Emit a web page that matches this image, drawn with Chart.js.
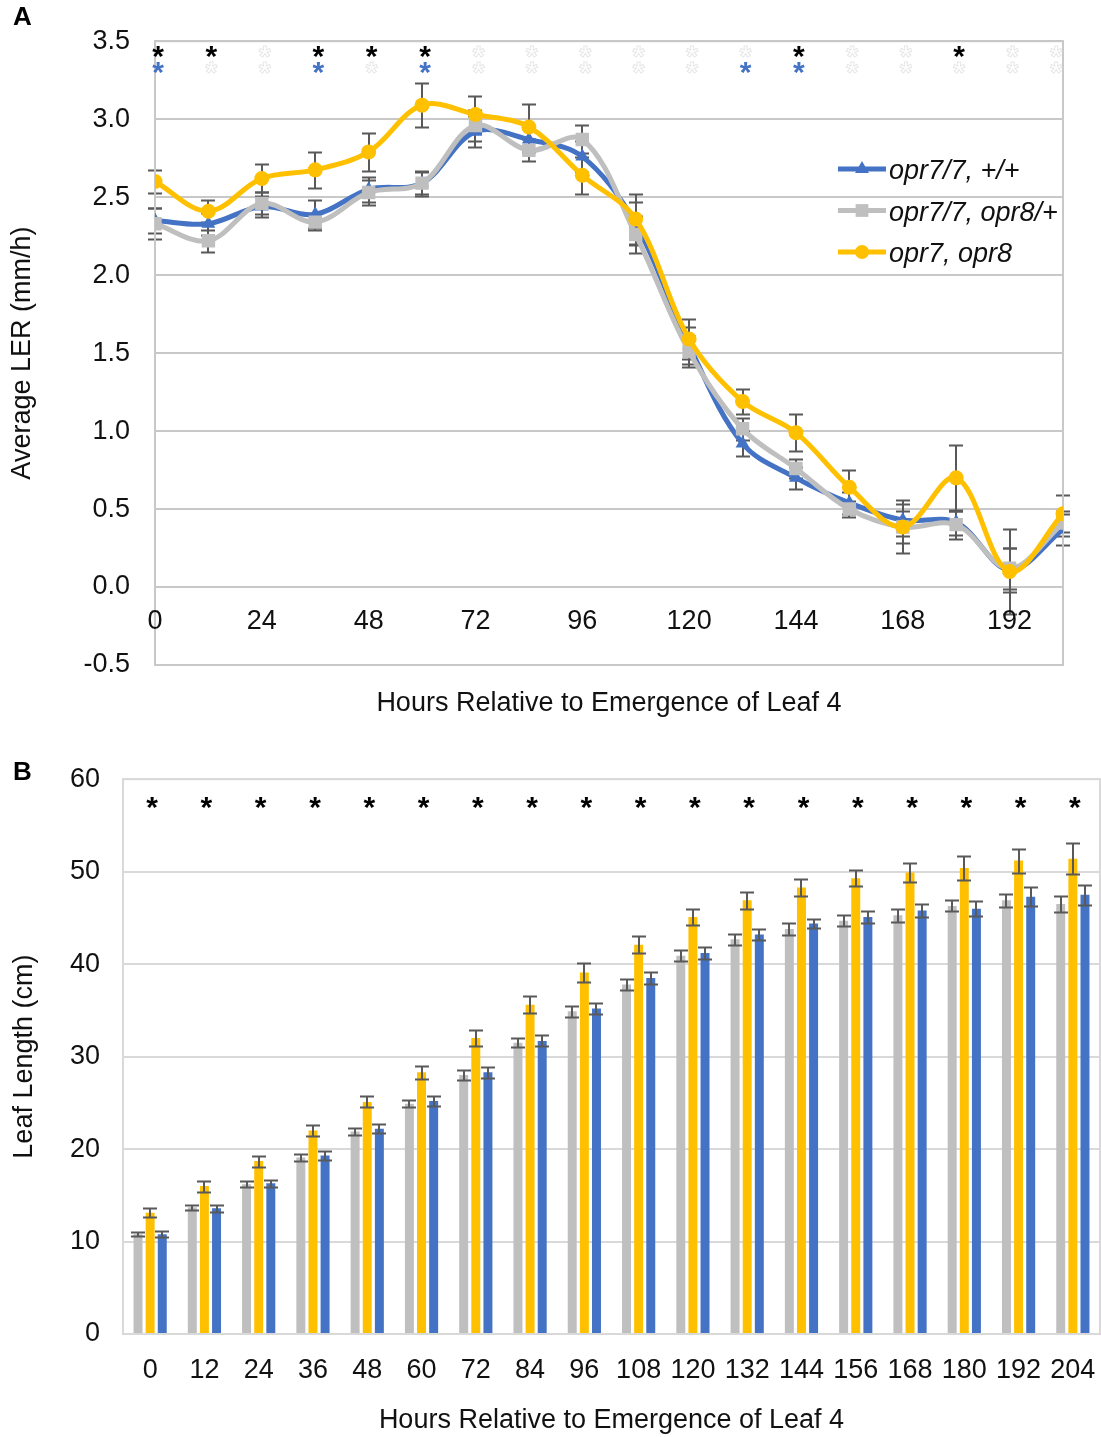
<!DOCTYPE html>
<html>
<head>
<meta charset="utf-8">
<script src="https://cdn.jsdelivr.net/npm/chart.js@4/dist/chart.umd.min.js"></script>
<style>
    body { margin: 0; background: #fff; }
    canvas { display: block; }
</style>
</head>
<body>
<canvas id="ler-chart" width="1101" height="740"></canvas>
<canvas id="length-chart" width="1101" height="697"></canvas>
<script>
// Leaf 4 growth in opr7/opr8 mutants: elongation rate (A) and leaf length (B).

const HOURS = [0, 12, 24, 36, 48, 60, 72, 84, 96, 108, 120, 132, 144, 156, 168, 180, 192, 204];
const LER_TICKS = [0, 24, 48, 72, 96, 120, 144, 168, 192];
const GENOTYPES = ['opr7/7, +/+', 'opr7/7, opr8/+', 'opr7, opr8'];

// A: average leaf elongation rate (mm/h) with standard errors
const LER_WT = [2.35, 2.33, 2.44, 2.39, 2.55, 2.59, 2.92, 2.87, 2.76, 2.33, 1.55, 0.92, 0.70, 0.54, 0.43, 0.415, 0.11, 0.37];
const LER_HET = [2.33, 2.22, 2.46, 2.34, 2.53, 2.59, 2.96, 2.80, 2.87, 2.26, 1.51, 1.015, 0.76, 0.50, 0.385, 0.40, 0.12, 0.41];
const LER_DBL = [2.60, 2.41, 2.62, 2.675, 2.79, 3.09, 3.03, 2.95, 2.64, 2.36, 1.59, 1.19, 0.99, 0.64, 0.385, 0.70, 0.10, 0.47];
const LER_WT_SE = [0.08, 0.07, 0.07, 0.09, 0.08, 0.07, 0.10, 0.08, 0.10, 0.14, 0.12, 0.08, 0.07, 0.07, 0.10, 0.08, 0.14, 0.10];
const LER_HET_SE = [0.10, 0.07, 0.07, 0.05, 0.08, 0.08, 0.10, 0.07, 0.09, 0.12, 0.10, 0.07, 0.06, 0.05, 0.10, 0.09, 0.13, 0.08];
const LER_DBL_SE = [0.075, 0.07, 0.09, 0.115, 0.12, 0.14, 0.12, 0.15, 0.12, 0.16, 0.13, 0.08, 0.12, 0.11, 0.17, 0.21, 0.27, 0.12];

// significance rows above panel A (1 = significant)
const SIG_DBL = [1, 1, 0, 1, 1, 1, 0, 0, 0, 0, 0, 0, 1, 0, 0, 1, 0, 0];
const SIG_WT = [1, 0, 0, 1, 0, 1, 0, 0, 0, 0, 0, 1, 1, 0, 0, 0, 0, 0];

// B: leaf length (cm) with standard errors
const LEN_HET = [10.8, 13.7, 16.2, 19.1, 21.9, 24.9, 28.0, 31.5, 34.9, 37.8, 40.9, 42.7, 43.8, 44.7, 45.3, 46.3, 46.9, 46.5];
const LEN_DBL = [13.1, 16.0, 18.7, 22.0, 25.1, 28.3, 32.0, 35.6, 39.1, 42.1, 45.1, 46.9, 48.3, 49.3, 49.9, 50.4, 51.2, 51.4];
const LEN_WT = [10.8, 13.6, 16.3, 19.3, 22.2, 25.2, 28.3, 31.7, 35.2, 38.5, 41.2, 43.2, 44.4, 45.1, 45.8, 46.0, 47.3, 47.5];
const LEN_HET_SE = [0.2, 0.3, 0.3, 0.4, 0.4, 0.4, 0.5, 0.5, 0.6, 0.6, 0.6, 0.6, 0.6, 0.6, 0.7, 0.6, 0.7, 0.9];
const LEN_DBL_SE = [0.5, 0.6, 0.6, 0.6, 0.6, 0.7, 0.9, 0.9, 1.0, 0.9, 0.9, 0.9, 0.9, 0.9, 1.0, 1.3, 1.3, 1.7];
const LEN_WT_SE = [0.3, 0.4, 0.4, 0.5, 0.5, 0.5, 0.6, 0.6, 0.6, 0.6, 0.6, 0.6, 0.5, 0.6, 0.7, 0.8, 1.0, 1.1];
const SIG_LEN = [1, 1, 1, 1, 1, 1, 1, 1, 1, 1, 1, 1, 1, 1, 1, 1, 1, 1];

const BLUE = '#4472c4';
const GREY = '#bfbfbf';
const GOLD = '#ffc000';
const ERR = '#595959';
const FONT = "'Liberation Sans', Arial, sans-serif";
const SIZE = 27;

Chart.defaults.font.family = FONT;
Chart.defaults.font.size = SIZE;
Chart.defaults.color = '#111';

const xy = (vals) => HOURS.map((h, i) => ({ x: h, y: vals[i] }));

function drawErrorBars(chart) {
    const { ctx } = chart;
    const y = chart.scales.y;
    ctx.save();
    ctx.strokeStyle = ERR;
    ctx.lineWidth = 2;
    chart.data.datasets.forEach((ds, i) => {
        if (!ds.errors) return;
        const meta = chart.getDatasetMeta(i);
        meta.data.forEach((el, j) => {
            const v = meta.controller.getParsed(j).y;
            const e = ds.errors[j];
            const top = Math.round(y.getPixelForValue(v + e)) + 0.5;
            const bot = Math.round(y.getPixelForValue(v - e)) + 0.5;
            const x = Math.round(el.x);
            ctx.beginPath();
            ctx.moveTo(x, top);
            ctx.lineTo(x, bot);
            ctx.moveTo(x - 7, top);
            ctx.lineTo(x + 7, top);
            ctx.moveTo(x - 7, bot);
            ctx.lineTo(x + 7, bot);
            ctx.stroke();
        });
    });
    ctx.restore();
}

const errorBars = {
    id: 'errorBars',
    beforeDatasetsDraw(chart, args, opts) {
        if (opts.under) drawErrorBars(chart);
    },
    afterDatasetsDraw(chart, args, opts) {
        if (!opts.under) drawErrorBars(chart);
    },
};

function drawStar(ctx, x, y, color, faint) {
    ctx.font = `bold 30px ${FONT}`;
    ctx.textAlign = 'center';
    ctx.textBaseline = 'alphabetic';
    const m = ctx.measureText('*');
    const base = y + (m.actualBoundingBoxAscent - m.actualBoundingBoxDescent) / 2;
    if (faint) {
        ctx.strokeStyle = '#e8e8e8';
        ctx.lineWidth = 1;
        ctx.strokeText('*', x, base);
    } else {
        ctx.fillStyle = color;
        ctx.fillText('*', x, base);
    }
}

function panelLetter(ctx, letter, y) {
    ctx.font = `bold 26px ${FONT}`;
    ctx.fillStyle = '#000';
    ctx.textAlign = 'left';
    ctx.textBaseline = 'middle';
    ctx.fillText(letter, 13, y);
}

function frame(chart, color) {
    const { ctx, chartArea: a } = chart;
    ctx.save();
    ctx.strokeStyle = color;
    ctx.lineWidth = 2;
    ctx.strokeRect(a.left, a.top, a.right - a.left, a.bottom - a.top);
    ctx.restore();
}

// panel A extras: frame, x labels on the zero line, star rows, legend
const lerDecor = {
    id: 'lerDecor',
    beforeDatasetsDraw(chart) {
        frame(chart, '#c8c8c8');
    },
    afterDraw(chart) {
        const { ctx, scales: { x, y } } = chart;
        ctx.save();
        ctx.font = `${SIZE}px ${FONT}`;
        ctx.fillStyle = '#111';
        ctx.textAlign = 'center';
        ctx.textBaseline = 'middle';
        const y0 = y.getPixelForValue(0) + 35;
        LER_TICKS.forEach((h) => ctx.fillText(String(h), x.getPixelForValue(h), y0));

        HOURS.forEach((h, i) => {
            const px = Math.min(x.getPixelForValue(h) + 3, chart.chartArea.right - 7);
            drawStar(ctx, px, y.getPixelForValue(3.43), '#000', !SIG_DBL[i]);
            drawStar(ctx, px, y.getPixelForValue(3.33), BLUE, !SIG_WT[i]);
        });

        const rows = [
            { label: GENOTYPES[0], color: BLUE, style: 'triangle', r: 8 },
            { label: GENOTYPES[1], color: GREY, style: 'rect', r: 9 },
            { label: GENOTYPES[2], color: GOLD, style: 'circle', r: 7 },
        ];
        rows.forEach((row, i) => {
            const ly = 169 + i * 41.5;
            ctx.strokeStyle = row.color;
            ctx.lineWidth = 5;
            ctx.beginPath();
            ctx.moveTo(838, ly);
            ctx.lineTo(886, ly);
            ctx.stroke();
            ctx.fillStyle = row.color;
            Chart.helpers.drawPoint(ctx, { pointStyle: row.style, radius: row.r, borderWidth: 0 }, 862, ly);
            ctx.fillStyle = '#111';
            ctx.font = `italic ${SIZE}px ${FONT}`;
            ctx.textAlign = 'left';
            ctx.textBaseline = 'alphabetic';
            ctx.fillText(row.label, 889, ly + 10);
        });

        panelLetter(ctx, 'A', 18);
        ctx.restore();
    },
};

new Chart(document.getElementById('ler-chart'), {
    type: 'line',
    data: {
        datasets: [
            {
                label: GENOTYPES[0],
                data: xy(LER_WT),
                errors: LER_WT_SE,
                borderColor: BLUE,
                backgroundColor: BLUE,
                pointStyle: 'triangle',
                pointRadius: 8,
                order: 3,
            },
            {
                label: GENOTYPES[1],
                data: xy(LER_HET),
                errors: LER_HET_SE,
                borderColor: GREY,
                backgroundColor: GREY,
                pointStyle: 'rect',
                pointRadius: 9.5,
                order: 2,
            },
            {
                label: GENOTYPES[2],
                data: xy(LER_DBL),
                errors: LER_DBL_SE,
                borderColor: GOLD,
                backgroundColor: GOLD,
                pointStyle: 'circle',
                pointRadius: 7.5,
                order: 1,
            },
        ],
    },
    options: {
        responsive: false,
        animation: false,
        layout: { padding: { top: 39, right: 38, bottom: 0, left: 0 } },
        elements: {
            line: { borderWidth: 5, tension: 0.35 },
            point: { borderWidth: 0 },
        },
        plugins: {
            legend: { display: false },
            tooltip: { enabled: false },
            errorBars: { under: true },
        },
        scales: {
            x: {
                type: 'linear',
                min: 0,
                max: 204,
                grid: { display: false },
                border: { display: false },
                ticks: { display: false },
                title: {
                    display: true,
                    text: 'Hours Relative to Emergence of Leaf 4',
                    padding: { top: 0, bottom: 20 },
                },
                afterFit: (s) => { s.height = 75; },
            },
            y: {
                min: -0.5,
                max: 3.5,
                ticks: { stepSize: 0.5, padding: 25, callback: (v) => v.toFixed(1) },
                grid: { color: '#c8c8c8', lineWidth: 2, drawTicks: false },
                border: { display: true, color: '#c8c8c8', width: 2 },
                title: { display: true, text: 'Average LER (mm/h)', padding: { top: 6, bottom: 0 } },
                afterFit: (s) => { s.width = 155; },
            },
        },
    },
    plugins: [errorBars, lerDecor],
});

// panel B extras: frame, star row, letter
const lengthDecor = {
    id: 'lengthDecor',
    beforeDatasetsDraw(chart) {
        frame(chart, '#d9d9d9');
    },
    afterDraw(chart) {
        const { ctx, scales: { x, y } } = chart;
        ctx.save();
        HOURS.forEach((h, i) => {
            if (SIG_LEN[i]) drawStar(ctx, x.getPixelForValue(i) + 2, y.getPixelForValue(57.4), '#000', false);
        });
        panelLetter(ctx, 'B', 33);
        ctx.restore();
    },
};

new Chart(document.getElementById('length-chart'), {
    type: 'bar',
    data: {
        labels: HOURS.map(String),
        datasets: [
            { label: GENOTYPES[1], data: LEN_HET, errors: LEN_HET_SE, backgroundColor: GREY },
            { label: GENOTYPES[2], data: LEN_DBL, errors: LEN_DBL_SE, backgroundColor: GOLD },
            { label: GENOTYPES[0], data: LEN_WT, errors: LEN_WT_SE, backgroundColor: BLUE },
        ],
    },
    options: {
        responsive: false,
        animation: false,
        layout: { padding: { top: 39, right: 1, bottom: 0, left: 0 } },
        datasets: { bar: { categoryPercentage: 0.67, barPercentage: 0.74 } },
        plugins: {
            legend: { display: false },
            tooltip: { enabled: false },
            errorBars: { under: false },
        },
        scales: {
            x: {
                grid: { display: false },
                border: { display: true, color: '#d9d9d9', width: 2 },
                ticks: { padding: 12, maxRotation: 0, autoSkip: false },
                title: {
                    display: true,
                    text: 'Hours Relative to Emergence of Leaf 4',
                    padding: { top: 0, bottom: 0 },
                },
                afterFit: (s) => {
                    s.height = 103;
                    s.paddingLeft = 0;
                    s.paddingRight = 0;
                },
            },
            y: {
                min: 0,
                max: 60,
                ticks: { stepSize: 10, padding: 23 },
                grid: { color: '#d9d9d9', lineWidth: 2, drawTicks: false },
                border: { display: true, color: '#d9d9d9', width: 2 },
                title: { display: true, text: 'Leaf Length (cm)', padding: { top: 8, bottom: 0 } },
                afterFit: (s) => { s.width = 123; },
            },
        },
    },
    plugins: [errorBars, lengthDecor],
});
</script>
</body>
</html>
